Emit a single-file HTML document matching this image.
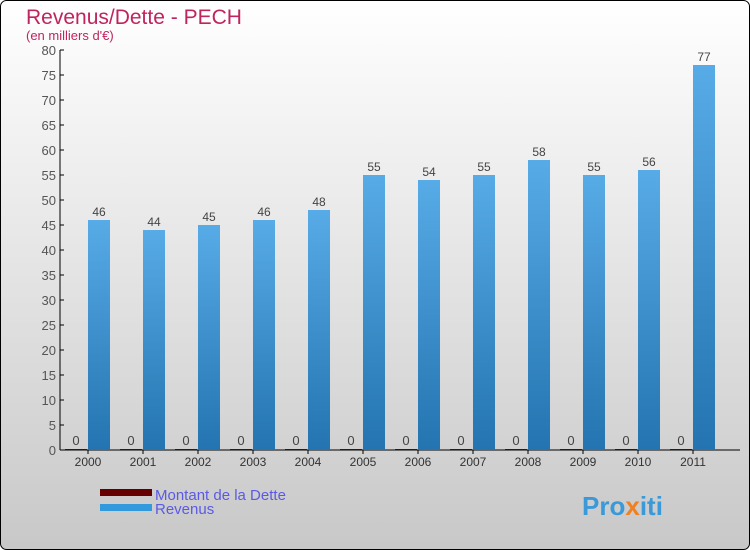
<!DOCTYPE html>
<html><head><meta charset="utf-8"><style>
body{margin:0;}
svg{display:block;font-family:"Liberation Sans",sans-serif;}
</style></head><body>
<svg id="c" width="750" height="550" xmlns="http://www.w3.org/2000/svg">
<defs>
<linearGradient id="bg" x1="0" y1="0" x2="0" y2="1"><stop offset="0" stop-color="#ffffff"/><stop offset="1" stop-color="#c8c8c8"/></linearGradient>
<linearGradient id="bl" x1="0" y1="0" x2="0" y2="1"><stop offset="0" stop-color="#57abe6"/><stop offset="1" stop-color="#2374b0"/></linearGradient>
</defs>
<rect x="0.5" y="0.5" width="749" height="549" rx="6" fill="url(#bg)" stroke="#000"/>
<text x="26" y="24" font-size="21" fill="#c0245e">Revenus/Dette - PECH</text>
<text x="26" y="40" font-size="13" fill="#c0245e">(en milliers d'€)</text>
<g id="axes"></g>
<g id="bars"></g>
<g>
<rect x="100" y="489" width="52" height="7" fill="#660000"/>
<text x="155" y="500" font-size="15" fill="#5a5ae6">Montant de la Dette</text>
<rect x="100" y="504" width="52" height="7" fill="#3399dd"/>
<text x="155" y="514" font-size="15" fill="#5a5ae6">Revenus</text>
</g>
<text x="582" y="515" font-size="26" font-weight="bold" fill="#3a9ad9">Pro<tspan fill="#f08020">x</tspan>iti</text>
</svg>
<script>
const years=["2000","2001","2002","2003","2004","2005","2006","2007","2008","2009","2010","2011"];
const revenus=[46,44,45,46,48,55,54,55,58,55,56,77];
const dette=[0,0,0,0,0,0,0,0,0,0,0,0];
const yTicks=[0,5,10,15,20,25,30,35,40,45,50,55,60,65,70,75,80];
const NS="http://www.w3.org/2000/svg";
const y0=450,yTop=50,yMax=80,xStart=88,step=55,bw=22;
const Y=v=>y0-(v/yMax)*(y0-yTop);
const X=i=>xStart+i*step;
function mk(t,a,p){const e=document.createElementNS(NS,t);for(const k in a)e.setAttribute(k,a[k]);p.appendChild(e);return e;}
const ax=document.getElementById('axes'),bg=document.getElementById('bars');
let l=mk('line',{x1:60,y1:yTop,x2:60,y2:y0,stroke:'#000'},ax);


l=mk('line',{x1:60,y1:y0,x2:740,y2:y0,stroke:'#000'},ax);


yTicks.forEach(v=>{
 const t=mk('line',{x1:60,y1:Y(v),x2:64,y2:Y(v),stroke:'#000'},ax);
 
 
 const tx=mk('text',{x:56,y:Y(v)+5,'font-size':13,fill:'#555','text-anchor':'end'},ax);
 tx.textContent=v;
 
 
});
years.forEach((yr,i)=>{
 const x=X(i);
 const t=mk('line',{x1:x,y1:y0,x2:x,y2:y0+4,stroke:'#000'},ax);
 
 
 const tx=mk('text',{x:x,y:y0+16,'font-size':12,fill:'#333','text-anchor':'middle'},ax);
 tx.textContent=yr;
 
 
 const d=mk('rect',{x:x-bw-1,y:Y(dette[i])-1,width:bw,height:Math.max(1,y0-Y(dette[i])),fill:'#660000'},bg);
 
 
 const dl=mk('text',{x:x-bw/2-1,y:Y(dette[i])-5,'font-size':13,fill:'#444','text-anchor':'middle'},bg);
 dl.textContent=dette[i];
 
 
 const r=mk('rect',{x:x,y:Y(revenus[i]),width:bw,height:y0-Y(revenus[i]),fill:'url(#bl)'},bg);
 
 
 const rl=mk('text',{x:x+bw/2,y:Y(revenus[i])-4,'font-size':12,fill:'#444','text-anchor':'middle'},bg);
 rl.textContent=revenus[i];
 
 
});
</script>
</body></html>
